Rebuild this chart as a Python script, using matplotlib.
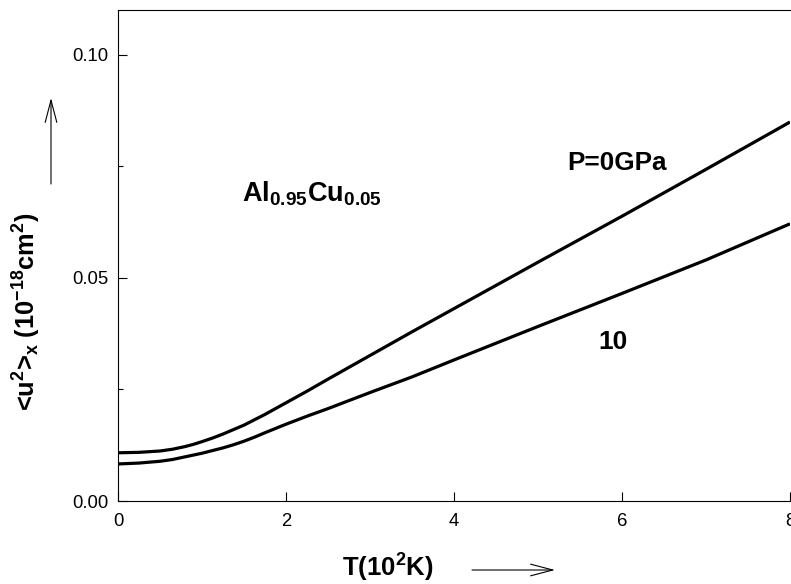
import matplotlib
matplotlib.use("Agg")
import matplotlib.pyplot as plt
from matplotlib.ticker import MultipleLocator

plt.rcParams['font.family'] = ['Liberation Sans', 'DejaVu Sans']
plt.rcParams['mathtext.fontset'] = 'custom'
plt.rcParams['mathtext.rm'] = 'Liberation Sans'
plt.rcParams['mathtext.bf'] = 'Liberation Sans:bold'
plt.rcParams['mathtext.it'] = 'Liberation Sans:italic'

# Temperature (10^2 K)
T = [0.0, 0.25, 0.5, 0.65, 0.8, 0.9, 1.0, 1.125, 1.25, 1.375, 1.5, 1.625, 1.75,
     2.0, 2.25, 2.5, 3.0, 3.5, 4.0, 5.0, 6.0, 7.0, 8.0]
# <u^2>_x (10^-18 cm^2)
u2_P0 = [0.0108, 0.0109, 0.0112, 0.0116, 0.0122, 0.0127, 0.0133, 0.0141, 0.0150,
         0.0160, 0.0170, 0.0182, 0.0194, 0.0220, 0.0246, 0.0273,
         0.0326, 0.0379, 0.0431, 0.0535, 0.0638, 0.0743, 0.0849]
u2_P10 = [0.0083, 0.0085, 0.0089, 0.0093, 0.0099, 0.0103, 0.0107, 0.0113, 0.0119,
          0.0126, 0.0134, 0.0143, 0.0153, 0.0172, 0.0190, 0.0207,
          0.0243, 0.0278, 0.0316, 0.0391, 0.0465, 0.0540, 0.0621]

xticks = [0, 2, 4, 6, 8]
yticks = [0.00, 0.05, 0.10]
ytick_labels = ['0.00', '0.05', '0.10']

W, H = 791, 584
fig = plt.figure(figsize=(W / 100, H / 100), dpi=100)
ax = fig.add_axes([118 / W, 83 / H, 672 / W, 491 / H])

ax.plot(T, u2_P0, color='black', lw=2.3, solid_capstyle='butt', solid_joinstyle='round')
ax.plot(T, u2_P10, color='black', lw=2.3, solid_capstyle='butt', solid_joinstyle='round')

ax.set_xlim(0, 8)
ax.set_ylim(0, 0.110)
ax.set_xticks(xticks)
ax.set_xticklabels([str(v) for v in xticks])
ax.set_yticks(yticks)
ax.set_yticklabels(ytick_labels)
ax.yaxis.set_minor_locator(MultipleLocator(0.025))

ax.tick_params(axis='both', which='major', direction='in', length=6.5, width=0.8,
               labelsize=13.3)
ax.tick_params(axis='y', which='minor', direction='in', length=3.5, width=0.8)
ax.tick_params(axis='y', which='major', pad=7)
ax.tick_params(axis='x', which='major', pad=9)
ax.spines['right'].set_visible(False)
for s in ['left', 'bottom', 'top']:
    ax.spines[s].set_linewidth(0.8)

# annotations inside axes
fig.text(242 / W, (H - 201.5) / H, r'Al$_{\mathbf{0.95}}$Cu$_{\mathbf{0.05}}$',
         fontsize=19.5, fontweight='bold', ha='left', va='baseline')
fig.text(567 / W, (H - 170.5) / H, 'P=0GPa', fontsize=18.8, fontweight='bold',
         ha='left', va='baseline')
fig.text(598 / W, (H - 349) / H, '10', fontsize=19, fontweight='bold',
         ha='left', va='baseline')

# axis labels
fig.text(342 / W, (H - 577) / H, r'T(10$^{\mathbf{2}}$K)', fontsize=18.5,
         fontweight='bold', ha='left', va='baseline')
fig.text(27 / W, (H - 312) / H,
         r'<u$^{\mathbf{2}}$>$_{\mathbf{x}}$ (10$^{\mathbf{-18}}$cm$^{\mathbf{2}}$)',
         fontsize=18.3, fontweight='bold', rotation=90, ha='center', va='center')

# arrows
ax.annotate('', xy=(51, H - 98), xycoords='figure pixels',
            xytext=(51, H - 184), textcoords='figure pixels',
            arrowprops=dict(arrowstyle='->,head_length=1.6,head_width=0.42',
                            lw=0.8, color='black', mutation_scale=10,
                            shrinkA=0, shrinkB=0))
ax.annotate('', xy=(555, H - 570), xycoords='figure pixels',
            xytext=(472, H - 570), textcoords='figure pixels',
            arrowprops=dict(arrowstyle='->,head_length=1.6,head_width=0.42',
                            lw=0.8, color='black', mutation_scale=10,
                            shrinkA=0, shrinkB=0))

fig.savefig('out.png', dpi=100)
